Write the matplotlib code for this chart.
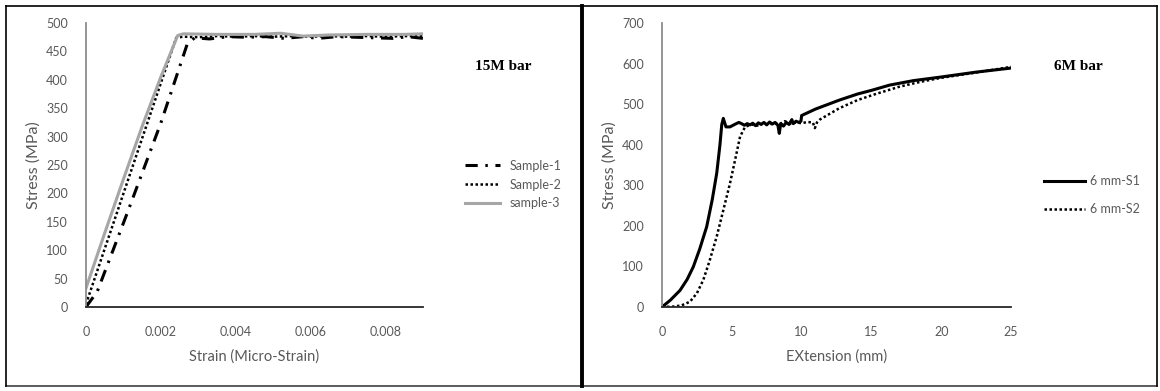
import matplotlib.pyplot as plt
from matplotlib.lines import Line2D

plt.rcParams['font.family'] = ['Lato', 'DejaVu Sans']

# 15M bar: strain vs stress
s1_x = [0, 0.0003, 0.0011, 0.002, 0.0027, 0.0029, 0.0033, 0.0038, 0.0043, 0.0048, 0.0053,
        0.0058, 0.0062, 0.0067, 0.0072, 0.0077, 0.0082, 0.0086, 0.009]
s1_y = [0, 27, 165, 324, 462, 474, 472, 476, 475, 476, 473, 476, 473, 476, 475, 474, 473, 476, 473]

s2_x = [0, 0.00241, 0.0026, 0.003, 0.0035, 0.004, 0.0045, 0.005, 0.0055, 0.006, 0.0065,
        0.007, 0.0075, 0.008, 0.0085, 0.009]
s2_y = [5, 474, 476, 475, 477, 476, 477, 476, 477, 476, 477, 476, 477, 476, 477, 477]

s3_x = [0, 0.0005, 0.001, 0.0015, 0.002, 0.00245, 0.0026, 0.0035, 0.0045, 0.0052, 0.0058,
        0.0065, 0.0075, 0.0085, 0.009]
s3_y = [33, 130, 225, 318, 405, 478, 481, 480, 480, 482, 477, 479, 480, 480, 481]

# 6M bar: extension vs stress
m1_x = [0, 0.6, 1.29, 1.8, 2.24, 2.7, 3.2, 3.6, 3.92, 4.15, 4.28, 4.39, 4.58, 4.87, 5.2, 5.5,
        5.7, 5.9, 6.1, 6.3, 6.5, 6.7, 6.9, 7.1, 7.3, 7.5, 7.7, 7.9, 8.1, 8.3, 8.4, 8.5, 8.7,
        8.9, 9.1, 9.3, 9.4, 9.6, 9.8, 9.95, 10.0, 11.0, 12.7, 14.0, 15.0, 16.3, 18.0, 20.0,
        22.5, 25.0]
m1_y = [0, 17, 41, 68, 99, 143, 198, 265, 330, 400, 450, 465, 444, 444, 450, 455,
        452, 448, 452, 449, 453, 447, 454, 450, 455, 449, 456, 451, 455, 448, 428, 452, 446,
        455, 450, 462, 452, 458, 455, 458, 472, 488, 510, 525, 534, 547, 558, 567,
        579, 589]

m2_x = [0, 0.8, 1.4, 2.0, 2.5, 2.96, 3.4, 3.92, 4.4, 4.87, 5.25, 5.59, 5.95, 6.1, 6.4, 6.8,
        7.2, 7.6, 8.0, 8.4, 8.8, 9.2, 9.6, 10.0, 10.4, 10.8, 10.95, 11.1, 11.3, 12.0, 12.7,
        14.0, 15.3, 17.0, 18.5, 20.0, 22.5, 25.0]
m2_y = [0, 1, 4, 13, 34, 67, 113, 174, 240, 305, 365, 420, 444, 446, 450, 447,
        452, 449, 453, 450, 458, 452, 455, 453, 456, 455, 441, 455, 462, 476, 490,
        510, 525, 543, 555, 565, 578, 592]

fig = plt.figure(figsize=(11.6, 3.91), dpi=100)
fig.patch.set_facecolor('white')

ax1 = fig.add_axes([0.0741, 0.2148, 0.2905, 0.7263])
ax2 = fig.add_axes([0.5707, 0.2148, 0.3009, 0.7263])

ax1.plot(s1_x, s1_y, color='black', lw=2.2, dashes=(4, 2.5, 0.8, 2.5), label='Sample-1')
ax1.plot(s2_x, s2_y, color='black', lw=1.8, linestyle=(0, (1, 1)), label='Sample-2')
ax1.plot(s3_x, s3_y, color='#a6a6a6', lw=2.2, label='sample-3')
ax1.set_xlim(0, 0.009)
ax1.set_ylim(0, 500)
ax1.set_xticks([0, 0.002, 0.004, 0.006, 0.008])
ax1.set_xticklabels(['0', '0.002', '0.004', '0.006', '0.008'])
ax1.set_yticks(range(0, 501, 50))
ax1.set_xlabel('Strain (Micro-Strain)')
ax1.set_ylabel('Stress (MPa)')

ax2.plot(m1_x, m1_y, color='black', lw=2.2, label='6 mm-S1')
ax2.plot(m2_x, m2_y, color='black', lw=1.8, linestyle=(0, (1, 1)), label='6 mm-S2')
ax2.set_xlim(0, 25)
ax2.set_ylim(0, 700)
ax2.set_xticks(range(0, 26, 5))
ax2.set_yticks(range(0, 701, 100))
ax2.set_xlabel('EXtension (mm)')
ax2.set_ylabel('Stress (MPa)')

for ax in (ax1, ax2):
    ax.spines['top'].set_visible(False)
    ax.spines['right'].set_visible(False)
    ax.spines['left'].set_color('#8c8c8c')
    ax.spines['left'].set_linewidth(1.3)
    ax.spines['bottom'].set_color('#262626')
    ax.spines['bottom'].set_linewidth(1.3)
    ax.tick_params(length=0, labelsize=9, labelcolor='#595959')
    ax.tick_params(axis='y', pad=13)
    ax.tick_params(axis='x', pad=14)
    ax.xaxis.label.set_color('#595959')
    ax.yaxis.label.set_color('#595959')
    ax.xaxis.label.set_size(10.5)
    ax.yaxis.label.set_size(11.5)
    ax.xaxis.labelpad = 8
    ax.yaxis.labelpad = 4

fig.text(503 / 1160, 1 - 67 / 391, '15M bar', family='Liberation Serif', weight='bold',
         fontsize=11, ha='center', va='center')
fig.text(1078 / 1160, 1 - 67 / 391, '6M bar', family='Liberation Serif', weight='bold',
         fontsize=11, ha='center', va='center')

leg1 = ax1.legend(loc='center left', bbox_to_anchor=(465 / 1160, 1 - 184.5 / 391),
                  bbox_transform=fig.transFigure, frameon=False, fontsize=9,
                  handlelength=2.8, handletextpad=0.8, labelspacing=0.55, borderpad=0,
                  borderaxespad=0)
leg2 = ax2.legend(loc='center left', bbox_to_anchor=(1044 / 1160, 1 - 195 / 391),
                  bbox_transform=fig.transFigure, frameon=False, fontsize=9,
                  handlelength=3.3, handletextpad=0.4, labelspacing=1.3, borderpad=0,
                  borderaxespad=0)
for leg in (leg1, leg2):
    for t in leg.get_texts():
        t.set_color('#595959')

# outer frame and panel divider
W, H = 1160, 391
def fline(x0, y0, x1, y1, lw, color='black'):
    fig.add_artist(Line2D([x0 / W, x1 / W], [1 - y0 / H, 1 - y1 / H], lw=lw, color=color,
                          transform=fig.transFigure))

fline(6, 6, 1157, 6, 1.2)
fline(6, 386, 1157, 386, 1.2, '#404040')
fline(6, 6, 6, 386, 1.2)
fline(1157, 6, 1157, 386, 1.2)
fline(581.5, 6, 581.5, 386, 2.8)

fig.savefig('out.png', dpi=100, facecolor='white')
